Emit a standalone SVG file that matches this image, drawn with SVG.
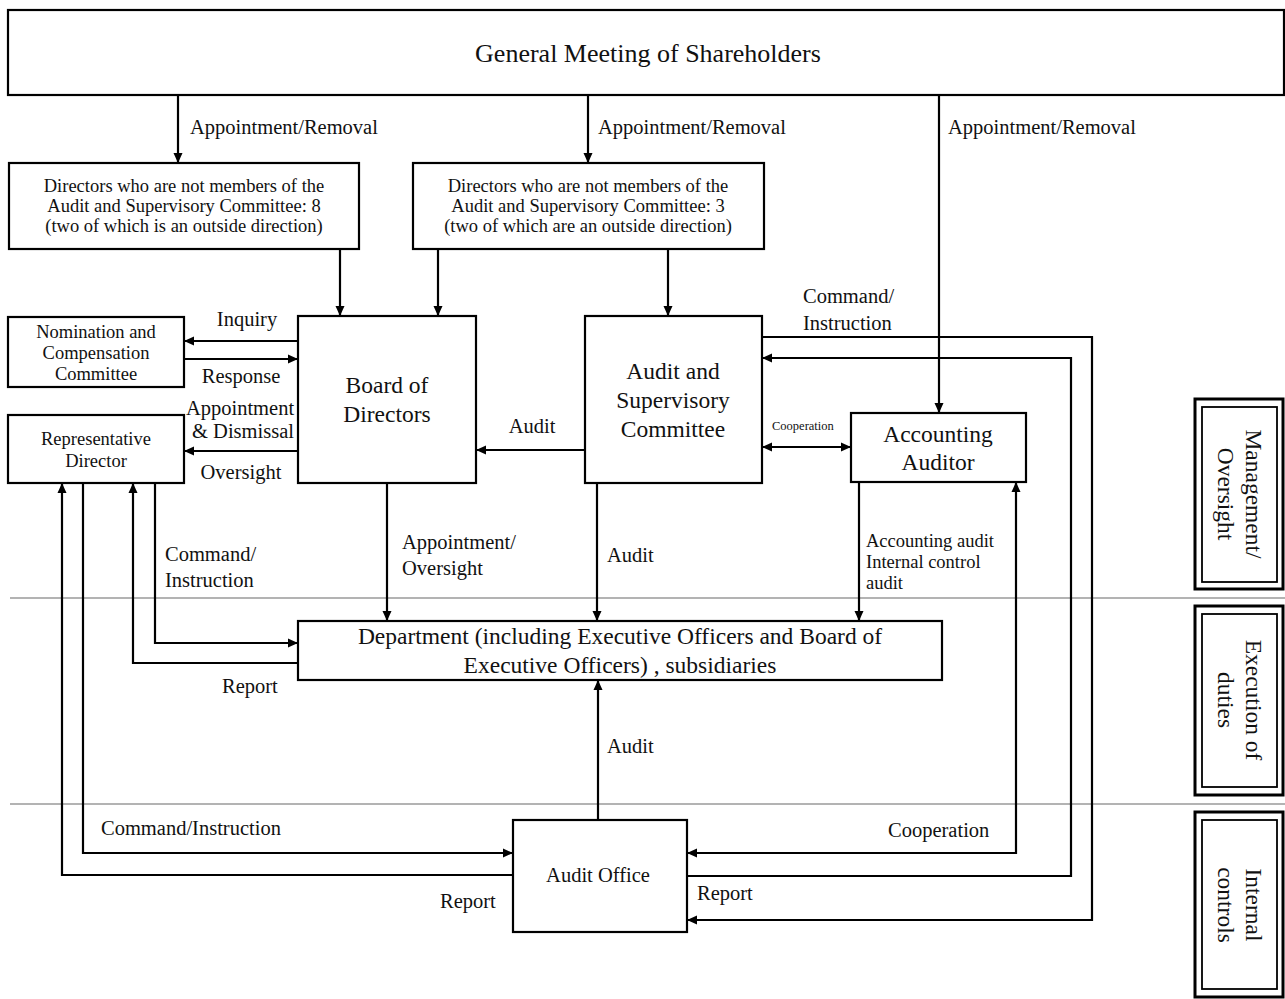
<svg xmlns="http://www.w3.org/2000/svg" width="1285" height="999" viewBox="0 0 1285 999" font-family="'Liberation Serif', 'DejaVu Serif', serif">
<style>
  text { font-family: "Liberation Serif", "DejaVu Serif", serif; fill: #111; }
  .box { fill: #fff; stroke: #000; stroke-width: 2.2; }
  .c { fill: none; stroke: #000; stroke-width: 2.2; }
  .band { stroke: #9a9a9a; stroke-width: 1.5; }
  .outer { fill: #fff; stroke: #000; stroke-width: 3; }
  .inner { fill: none; stroke: #000; stroke-width: 1.8; }
  .mid { text-anchor: middle; }
  .lbl { font-size: 20.5px; }
  .bx { font-size: 18.5px; }
  .big { font-size: 23.5px; }
</style>
<defs>
  <marker id="ah" markerUnits="userSpaceOnUse" markerWidth="11" markerHeight="10" refX="10" refY="5" orient="auto-start-reverse">
    <path d="M0,0.5 L10,5 L0,9.5 z" fill="#000"/>
  </marker>
</defs>

<g id="bands">
  <line class="band" x1="10" y1="598" x2="1285" y2="598"/>
  <line class="band" x1="10" y1="804" x2="1285" y2="804"/>
</g>

<g id="connectors">
  <line class="c" x1="178" y1="95" x2="178" y2="163" marker-end="url(#ah)"/>
  <line class="c" x1="588" y1="95" x2="588" y2="163" marker-end="url(#ah)"/>
  <line class="c" x1="939" y1="95" x2="939" y2="413" marker-end="url(#ah)"/>
  <line class="c" x1="340" y1="249" x2="340" y2="316" marker-end="url(#ah)"/>
  <line class="c" x1="438" y1="249" x2="438" y2="316" marker-end="url(#ah)"/>
  <line class="c" x1="668" y1="249" x2="668" y2="316" marker-end="url(#ah)"/>
  <line class="c" x1="298" y1="341" x2="184" y2="341" marker-end="url(#ah)"/>
  <line class="c" x1="184" y1="359" x2="298" y2="359" marker-end="url(#ah)"/>
  <line class="c" x1="298" y1="451" x2="184" y2="451" marker-end="url(#ah)"/>
  <line class="c" x1="585" y1="450" x2="476" y2="450" marker-end="url(#ah)"/>
  <line class="c" x1="762" y1="447" x2="851" y2="447" marker-start="url(#ah)" marker-end="url(#ah)"/>
  <line class="c" x1="387" y1="483" x2="387" y2="621" marker-end="url(#ah)"/>
  <line class="c" x1="597" y1="483" x2="597" y2="621" marker-end="url(#ah)"/>
  <line class="c" x1="859" y1="482" x2="859" y2="621" marker-end="url(#ah)"/>
  <path class="c" d="M155,483 V643 H298" marker-end="url(#ah)"/>
  <path class="c" d="M298,663 H133 V483" marker-end="url(#ah)"/>
  <path class="c" d="M83,483 V853 H513" marker-end="url(#ah)"/>
  <path class="c" d="M513,875 H62 V483" marker-end="url(#ah)"/>
  <line class="c" x1="598" y1="820" x2="598" y2="680" marker-end="url(#ah)"/>
  <path class="c" d="M762,337 H1092 V920 H687" marker-end="url(#ah)"/>
  <path class="c" d="M687,876 H1071 V358 H762" marker-end="url(#ah)"/>
  <path class="c" d="M1016,482 V853 H687" marker-start="url(#ah)" marker-end="url(#ah)"/>
</g>

<g id="connector-labels" class="lbl">
  <text x="190" y="134">Appointment/Removal</text>
  <text x="598" y="134">Appointment/Removal</text>
  <text x="948" y="134">Appointment/Removal</text>
  <text class="mid" x="247" y="326">Inquiry</text>
  <text class="mid" x="241" y="383">Response</text>
  <text class="mid" x="240" y="415">Appointment</text>
  <text class="mid" x="243" y="438">&amp; Dismissal</text>
  <text class="mid" x="241" y="479">Oversight</text>
  <text class="mid" x="532" y="433">Audit</text>
  <text x="803" y="303">Command/</text>
  <text x="803" y="330">Instruction</text>
  <text x="772" y="430" style="font-size:12.5px">Cooperation</text>
  <text x="402" y="549">Appointment/</text>
  <text x="402" y="575">Oversight</text>
  <text x="607" y="562">Audit</text>
  <text x="866" y="547" style="font-size:18.5px">Accounting audit</text>
  <text x="866" y="568" style="font-size:18.5px">Internal control</text>
  <text x="866" y="589" style="font-size:18.5px">audit</text>
  <text x="165" y="561">Command/</text>
  <text x="165" y="587">Instruction</text>
  <text x="222" y="693">Report</text>
  <text x="607" y="753">Audit</text>
  <text x="101" y="835">Command/Instruction</text>
  <text x="440" y="908">Report</text>
  <text x="888" y="837">Cooperation</text>
  <text x="697" y="900">Report</text>
</g>

<g id="general-meeting">
  <rect class="box" x="8" y="10" width="1276" height="85"/>
  <text class="mid" x="648" y="62" style="font-size:26px">General Meeting of Shareholders</text>
</g>

<g id="directors-8">
  <rect class="box" x="9" y="163" width="350" height="86"/>
  <text class="mid bx" x="184" y="192">Directors who are not members of the</text>
  <text class="mid bx" x="184" y="212">Audit and Supervisory Committee: 8</text>
  <text class="mid bx" x="184" y="232">(two of which is an outside direction)</text>
</g>

<g id="directors-3">
  <rect class="box" x="413" y="163" width="351" height="86"/>
  <text class="mid bx" x="588" y="192">Directors who are not members of the</text>
  <text class="mid bx" x="588" y="212">Audit and Supervisory Committee: 3</text>
  <text class="mid bx" x="588" y="232">(two of which are an outside direction)</text>
</g>

<g id="nomination">
  <rect class="box" x="8" y="317" width="176" height="70"/>
  <text class="mid bx" x="96" y="338">Nomination and</text>
  <text class="mid bx" x="96" y="359">Compensation</text>
  <text class="mid bx" x="96" y="380">Committee</text>
</g>

<g id="representative-director">
  <rect class="box" x="8" y="415" width="176" height="68"/>
  <text class="mid bx" x="96" y="445">Representative</text>
  <text class="mid bx" x="96" y="467">Director</text>
</g>

<g id="board">
  <rect class="box" x="298" y="316" width="178" height="167"/>
  <text class="mid big" x="387" y="393">Board of</text>
  <text class="mid big" x="387" y="422">Directors</text>
</g>

<g id="audit-committee">
  <rect class="box" x="585" y="316" width="177" height="167"/>
  <text class="mid big" x="673" y="379">Audit and</text>
  <text class="mid big" x="673" y="408">Supervisory</text>
  <text class="mid big" x="673" y="437">Committee</text>
</g>

<g id="accounting-auditor">
  <rect class="box" x="851" y="413" width="175" height="69"/>
  <text class="mid big" x="938" y="442">Accounting</text>
  <text class="mid big" x="938" y="470">Auditor</text>
</g>

<g id="department">
  <rect class="box" x="298" y="621" width="644" height="59"/>
  <text class="mid big" x="620" y="644">Department (including Executive Officers and Board of</text>
  <text class="mid big" x="620" y="673">Executive Officers) , subsidiaries</text>
</g>

<g id="audit-office">
  <rect class="box" x="513" y="820" width="174" height="112"/>
  <text class="mid" x="598" y="882" style="font-size:20.5px">Audit Office</text>
</g>

<g id="band-management">
  <rect class="outer" x="1195" y="399" width="88" height="190"/>
  <rect class="inner" x="1202" y="407" width="75" height="175"/>
  <text class="mid" transform="translate(1239,494) rotate(90)" style="font-size:23.5px"><tspan x="0" y="-7">Management/</tspan><tspan x="0" y="21">Oversight</tspan></text>
</g>

<g id="band-execution">
  <rect class="outer" x="1195" y="606" width="88" height="189"/>
  <rect class="inner" x="1202" y="614" width="75" height="173"/>
  <text class="mid" transform="translate(1239,700) rotate(90)" style="font-size:23.5px"><tspan x="0" y="-7">Execution of</tspan><tspan x="0" y="21">duties</tspan></text>
</g>

<g id="band-internal">
  <rect class="outer" x="1195" y="812" width="88" height="185"/>
  <rect class="inner" x="1202" y="820" width="75" height="169"/>
  <text class="mid" transform="translate(1239,905) rotate(90)" style="font-size:23.5px"><tspan x="0" y="-7">Internal</tspan><tspan x="0" y="21">controls</tspan></text>
</g>
</svg>
